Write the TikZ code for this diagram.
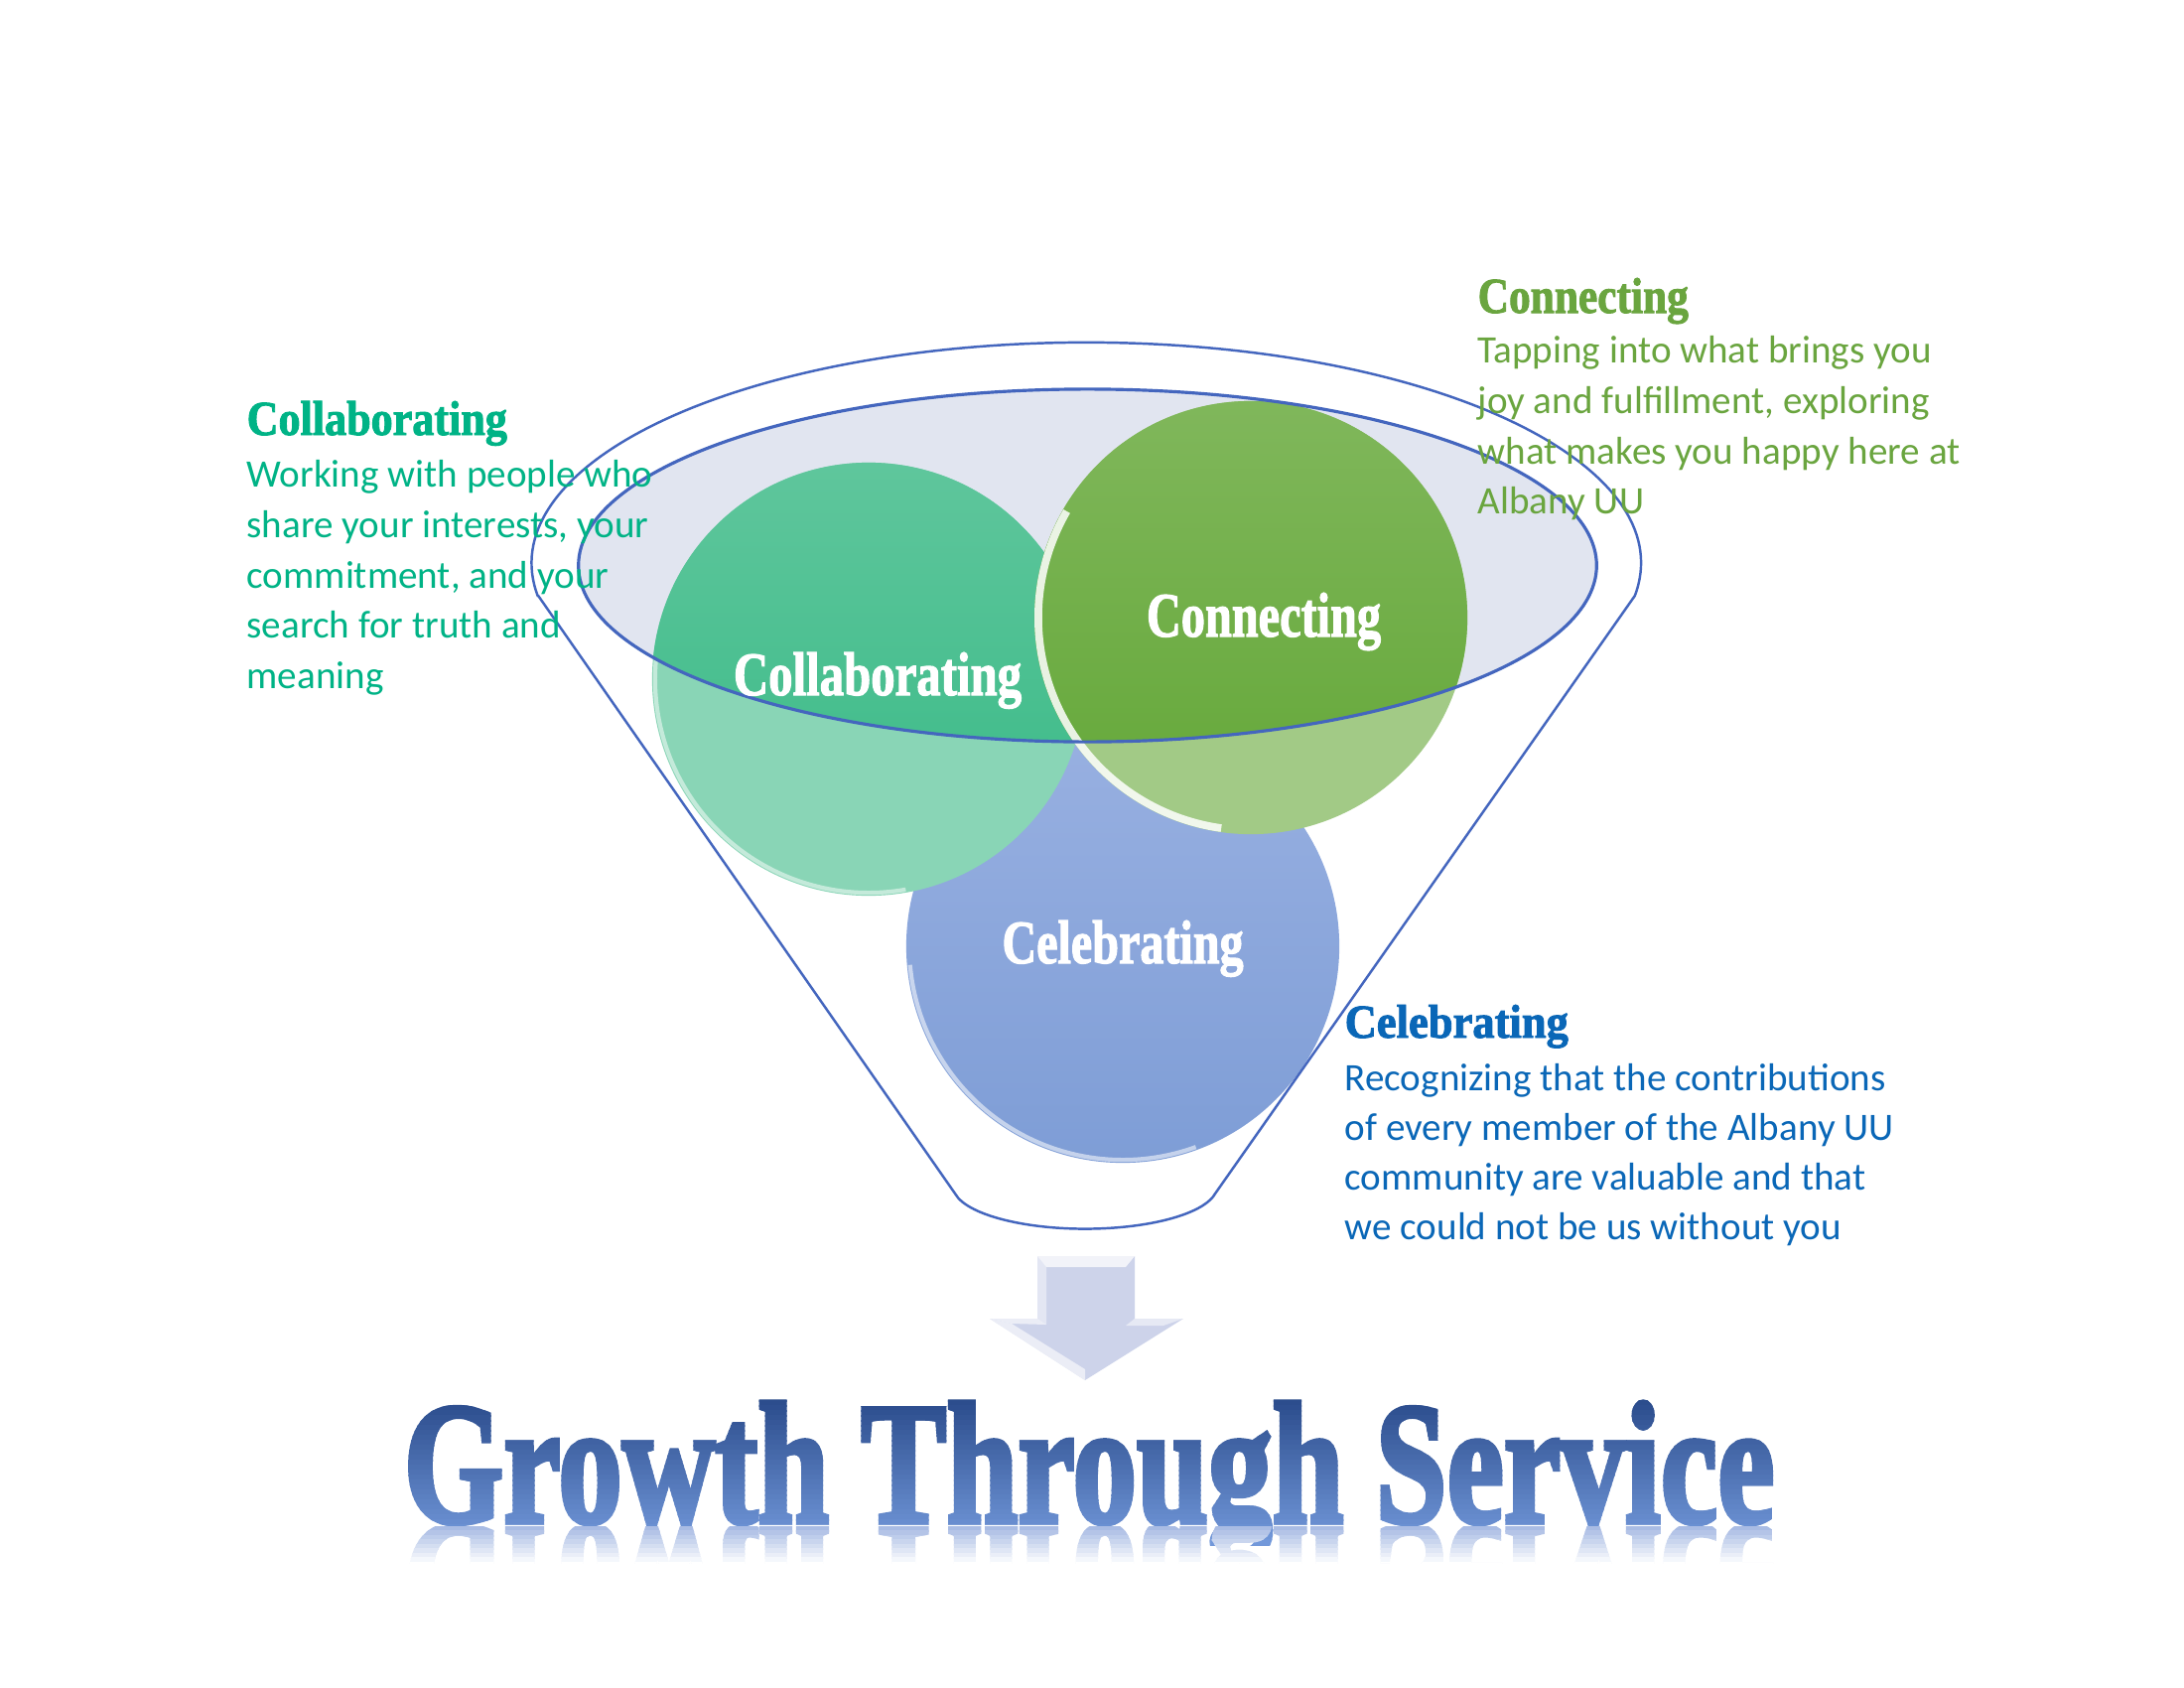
\documentclass[tikz,border=0pt]{standalone}
\usepackage{fontspec}
\setmainfont{Liberation Serif}
\newfontfamily\bodyfont{Carlito}
\newfontfamily\headfont{Liberation Serif}[BoldFeatures={FakeBold=2}]
\newfontfamily\titlefont{Liberation Serif}[BoldFeatures={FakeBold=3}]
\usepackage{graphicx}
\definecolor{collabtxt}{HTML}{00B386}
\definecolor{conntxt}{HTML}{6AA53F}
\definecolor{celebtxt}{HTML}{0A67B7}
\definecolor{funnelblue}{HTML}{4466BE}
\definecolor{ellfill}{HTML}{E1E5F0}
\definecolor{collabsatA}{HTML}{5FC69C}
\definecolor{collabsatB}{HTML}{36B985}
\definecolor{collablight}{HTML}{89D5B6}
\definecolor{connsatA}{HTML}{80B75B}
\definecolor{connsatB}{HTML}{63A737}
\definecolor{connlight}{HTML}{A2CA86}
\definecolor{celebA}{HTML}{98B0E1}
\definecolor{celebB}{HTML}{7E9DD6}
\definecolor{arrowfill}{HTML}{CDD3EA}
\definecolor{titletop}{HTML}{294A8A}
\definecolor{titlebot}{HTML}{7298DA}
\definecolor{reflc}{HTML}{A9BCE4}
\newcommand\hdtxt[3]{\resizebox{#1}{#2}{\headfont\bfseries #3}}
\newcommand\titletext{\resizebox{13.8cm}{1.21cm}{\titlefont\bfseries Growth Through Service}}
\tikzset{
  bodytxt/.style={anchor=base west, inner sep=0pt, font=\bodyfont\fontsize{11.12pt}{14pt}\selectfont},
  headtxt/.style={anchor=base west, inner sep=0pt},
  circlabel/.style={anchor=base, inner sep=0pt, text=white},
  funnelline/.style={draw=funnelblue, line width=0.7pt},
  titlestyle/.style={anchor=base west, inner sep=0pt},
}
\begin{document}
\begin{tikzpicture}[x=0.01cm, y=-0.01cm]
\useasboundingbox (0,0) rectangle (2200,1700);
\fill[white] (0,0) rectangle (2200,1700);

% key coordinates
\coordinate (ecent) at (1095.5,569.5);
\coordinate (fl) at (542.2,600);
\coordinate (fr) at (1646.8,600);
\coordinate (bl) at (962,1202);
\coordinate (cc) at (875,684);
\coordinate (cn) at (1260,622);
\coordinate (ce) at (1131,953);

% funnel opening
\fill[ellfill] (ecent) ellipse[x radius=5.125cm, y radius=1.775cm];

% circles (light, as seen through the funnel)
\shade[top color=celebA, bottom color=celebB] (ce) circle[radius=2.18cm];
\fill[collablight] (cc) circle[radius=2.18cm];
\fill[connlight] (cn) circle[radius=2.18cm];

% circles seen in the opening
\begin{scope}
  \clip (ecent) ellipse[x radius=5.125cm, y radius=1.775cm];
  \shade[top color=collabsatA, bottom color=collabsatB] (cc) circle[radius=2.18cm];
  \shade[top color=connsatA, bottom color=connsatB] (cn) circle[radius=2.18cm];
\end{scope}

% bevel highlights
\draw[white, opacity=.55, line width=1.2pt] ([shift={(185:2.15cm)}]ce) arc[start angle=185, end angle=290, radius=2.15cm];
\draw[white, opacity=.5, line width=1.2pt] ([shift={(175:2.15cm)}]cc) arc[start angle=175, end angle=280, radius=2.15cm];
\draw[white, opacity=.85, line width=2.2pt] ([shift={(150:2.14cm)}]cn) arc[start angle=150, end angle=262, radius=2.14cm];

% outlines
\draw[funnelline, line width=0.9pt] (ecent) ellipse[x radius=5.125cm, y radius=1.775cm];
\draw[funnelline] (fl) -- (bl) arc[start angle=190, end angle=350, x radius=1.33cm, y radius=0.43cm] -- (fr) arc[start angle=-8.55, end angle=188.55, x radius=5.585cm, y radius=2.22cm] -- cycle;

% circle labels
\node[circlabel] (lcc) at (884,700) {\hdtxt{2.90cm}{0.43cm}{Collaborating}};
\node[circlabel] (lcn) at (1273,641) {\hdtxt{2.36cm}{0.44cm}{Connecting}};
\node[circlabel] (lce) at (1131,970) {\hdtxt{2.43cm}{0.43cm}{Celebrating}};

% Collaborating block
\node[headtxt, text=collabtxt] (hcc) at (248,438) {\hdtxt{2.62cm}{0.34cm}{Collaborating}};
\node[bodytxt, text=collabtxt] (b1) at (248,490) {Working with people who};
\node[bodytxt, text=collabtxt] (b2) at (248,541) {share your interests, your};
\node[bodytxt, text=collabtxt] (b3) at (248,592) {commitment, and your};
\node[bodytxt, text=collabtxt] (b4) at (248,642) {search for truth and};
\node[bodytxt, text=collabtxt] (b5) at (248,693) {meaning};

% Connecting block
\node[headtxt, text=conntxt] (hcn) at (1488,315) {\hdtxt{2.12cm}{0.35cm}{Connecting}};
\node[bodytxt, text=conntxt] (n1) at (1488,365) {Tapping into what brings you};
\node[bodytxt, text=conntxt] (n2) at (1488,416) {joy and fulfillment, exploring};
\node[bodytxt, text=conntxt] (n3) at (1488,467) {what makes you happy here at};
\node[bodytxt, text=conntxt] (n4) at (1488,517) {Albany UU};

% Celebrating block
\node[headtxt, text=celebtxt] (hce) at (1354,1045) {\hdtxt{2.25cm}{0.33cm}{Celebrating}};
\node[bodytxt, text=celebtxt] (e1) at (1354,1098) {Recognizing that the contributions};
\node[bodytxt, text=celebtxt] (e2) at (1354,1148) {of every member of the Albany UU};
\node[bodytxt, text=celebtxt] (e3) at (1354,1198) {community are valuable and that};
\node[bodytxt, text=celebtxt] (e4) at (1354,1248) {we could not be us without you};

% arrow
\fill[arrowfill] (1045,1265) -- (1143,1265) -- (1143,1328) -- (1192,1328) -- (1093,1390) -- (997,1328) -- (1045,1328) -- cycle;
\fill[white, opacity=.75] (1045,1265) -- (1143,1265) -- (1134,1276) -- (1054,1276) -- cycle;
\fill[white, opacity=.45] (1045,1265) -- (1054,1276) -- (1054,1334) -- (1045,1328) -- cycle;
\fill[white, opacity=.6] (997,1328) -- (1093,1390) -- (1093,1379) -- (1019,1333) -- cycle;
\fill[white, opacity=.6] (997,1328) -- (1045,1328) -- (1054,1334) -- (1019,1333) -- cycle;
\fill[white, opacity=.5] (1143,1328) -- (1192,1328) -- (1172,1335) -- (1134,1335) -- cycle;

% title with vertical gradient
\foreach \i in {0,...,29}{
  \pgfmathsetmacro\pp{100*\i/29}
  \begin{scope}
    \clip (390,{1405+5*\i}) rectangle (1820,{1411+5*\i});
    \node[titlestyle, text=titlebot!\pp!titletop] (t\i) at (406,1533) {\titletext};
  \end{scope}
}
% reflection
\foreach \i in {0,...,8}{
  \pgfmathsetmacro\pp{100*\i/8}
  \begin{scope}
    \clip (390,{1537+4.5*\i}) rectangle (1820,{1542.5+4.5*\i});
    \node[titlestyle, text=white!\pp!reflc] (r\i) at (406,1537) {\scalebox{1}[-1]{\titletext}};
  \end{scope}
}
\end{tikzpicture}
\end{document}
